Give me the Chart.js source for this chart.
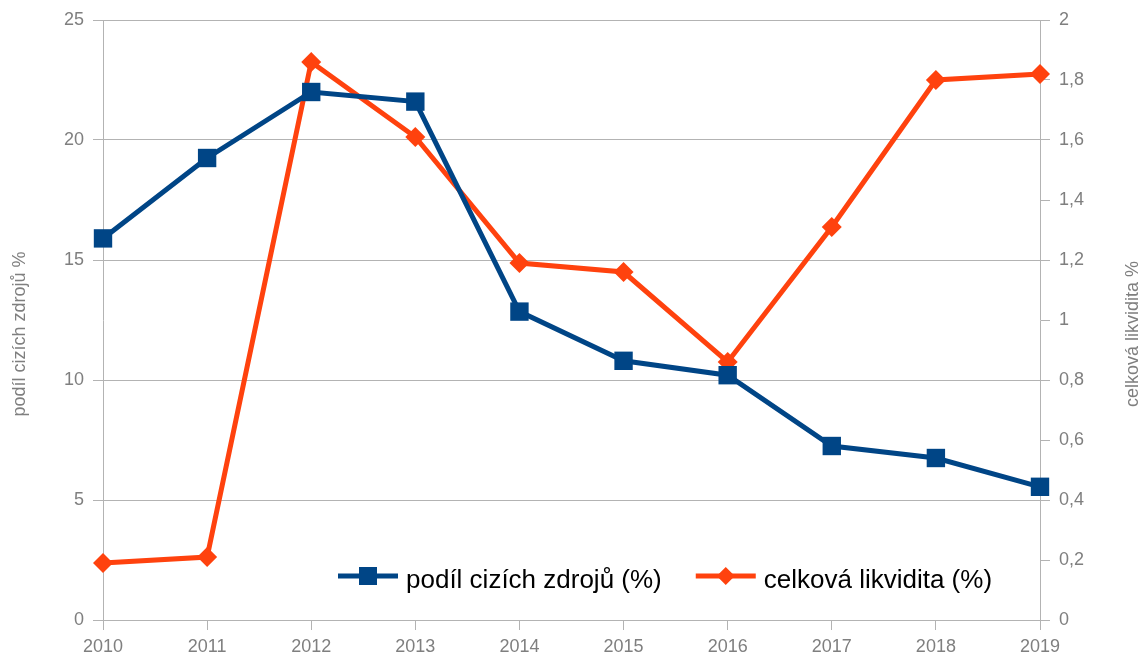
<!DOCTYPE html>
<html>
<head>
<meta charset="utf-8">
<script src="https://cdn.jsdelivr.net/npm/chart.js@4/dist/chart.umd.min.js"></script>
<style>
 html,body{margin:0;padding:0;background:#fff;}
 #wrap{width:1145px;height:662px;}
</style>
</head>
<body>
<div id="wrap"><canvas id="chart" width="1145" height="662"></canvas></div>
<script>
// data
const years = ["2010","2011","2012","2013","2014","2015","2016","2017","2018","2019"];
const podilCizichZdroju = [15.9, 19.25, 22.0, 21.6, 12.85, 10.8, 10.2, 7.25, 6.75, 5.55];
const celkovaLikvidita = [0.19, 0.21, 1.86, 1.61, 1.19, 1.16, 0.86, 1.31, 1.80, 1.82];

const leftTitle = "podíl cizích zdrojů %";
const rightTitle = "celková likvidita %";
const seriesNames = ["podíl cizích zdrojů (%)", "celková likvidita (%)"];

const BLUE = "#004586";
const ORANGE = "#ff420e";
const GRID = "#b3b3b3";
const TXT = "#7f7f7f";
const FONT = "'Liberation Sans', Arial, sans-serif";

/* axis titles, bottom-to-top on both sides */
const axisTitles = {
 id:"axisTitles",
 afterDraw(chart){
   const ctx = chart.ctx;
   ctx.save();
   ctx.font = "18px " + FONT;
   ctx.fillStyle = TXT;
   ctx.textAlign = "center";
   ctx.textBaseline = "middle";
   [[20, leftTitle],[1133, rightTitle]].forEach(([x,t])=>{
     ctx.save();
     ctx.translate(x, 334);
     ctx.rotate(-Math.PI/2);
     ctx.fillText(t, 0, 0);
     ctx.restore();
   });
   ctx.restore();
 }
};

/* legend inside the plot, near the bottom */
const innerLegend = {
 id:"innerLegend",
 afterDraw(chart){
   const ctx = chart.ctx;
   const y = 576;
   ctx.save();
   ctx.font = "26px " + FONT;
   ctx.textBaseline = "alphabetic";
   let x = 338;
   chart.data.datasets.forEach((ds,i)=>{
     ctx.strokeStyle = ds.borderColor;
     ctx.lineWidth = 5;
     ctx.beginPath();
     ctx.moveTo(x, y);
     ctx.lineTo(x+60, y);
     ctx.stroke();
     ctx.fillStyle = ds.borderColor;
     const cx = x+30;
     ctx.beginPath();
     if(ds.pointStyle === "rect"){
       ctx.rect(cx-9, y-9, 18, 18);
     }else{
       ctx.moveTo(cx-9, y); ctx.lineTo(cx, y-9);
       ctx.lineTo(cx+9, y); ctx.lineTo(cx, y+9);
       ctx.closePath();
     }
     ctx.fill();
     ctx.fillStyle = "#000";
     ctx.fillText(seriesNames[i], x+68, y+12);
     x += 68 + ctx.measureText(seriesNames[i]).width + 34;
   });
   ctx.restore();
 }
};

new Chart(document.getElementById("chart"),{
 type:"line",
 data:{
   labels:years,
   datasets:[
     {
       label:seriesNames[0],
       data:podilCizichZdroju,
       yAxisID:"y",
       borderColor:BLUE,
       backgroundColor:BLUE,
       borderWidth:5,
       tension:0,
       pointStyle:"rect",
       pointRadius:13,
       pointBorderWidth:0
     },
     {
       label:seriesNames[1],
       data:celkovaLikvidita,
       yAxisID:"y1",
       borderColor:ORANGE,
       backgroundColor:ORANGE,
       borderWidth:5,
       tension:0,
       pointStyle:"rectRot",
       pointRadius:10,
       pointBorderWidth:0
     }
   ]
 },
 options:{
   responsive:false,
   animation:false,
   devicePixelRatio:1,
   layout:{padding:{top:20,left:0,right:0,bottom:0}},
   plugins:{
     legend:{display:false},
     tooltip:{enabled:false}
   },
   scales:{
     x:{
       offset:false,
       grid:{drawOnChartArea:false, drawTicks:true, tickLength:10, color:GRID},
       border:{color:GRID},
       ticks:{color:TXT, font:{family:FONT,size:18}, padding:6, maxRotation:0, autoSkip:false},
       afterFit(s){ s.height = 42; }
     },
     y:{
       position:"left",
       min:0, max:25,
       ticks:{stepSize:5, color:TXT, font:{family:FONT,size:18}, padding:9},
       grid:{color:GRID, tickLength:10},
       border:{color:GRID},
       afterFit(s){ s.width = 103; }
     },
     y1:{
       position:"right",
       min:0, max:2,
       ticks:{
         stepSize:0.2, color:TXT, font:{family:FONT,size:18}, padding:9,
         callback:v=>String(Number(v.toFixed(1))).replace(".",",")
       },
       grid:{drawOnChartArea:false, color:GRID, tickLength:10},
       border:{color:GRID},
       afterFit(s){ s.width = 105; }
     }
   }
 },
 plugins:[axisTitles, innerLegend]
});
</script>
</body>
</html>
